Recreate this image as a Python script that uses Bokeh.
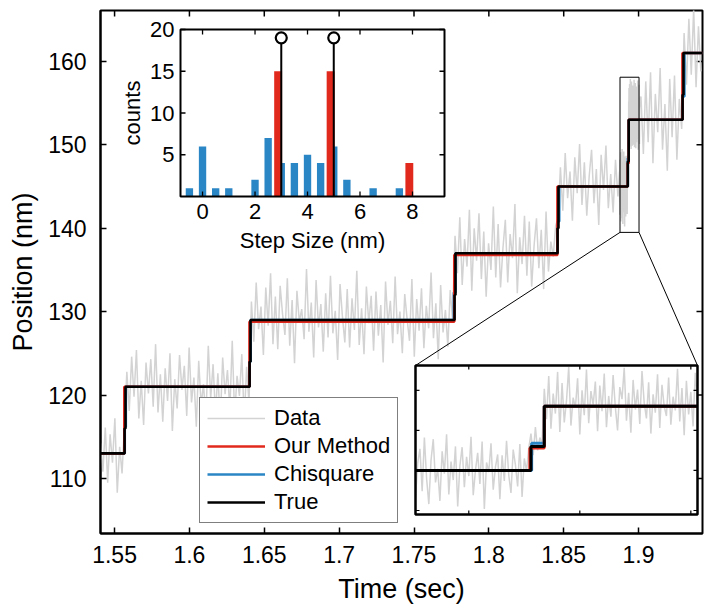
import numpy as np
from bokeh.plotting import figure
from bokeh.models import Range1d, FixedTicker, Legend, LegendItem, NumeralTickFormatter
from bokeh.core.properties import value
from bokeh.embed import file_html
from bokeh.resources import INLINE

FONT = "Liberation Sans"
GRAY = "#d3d3d3"
RED = "#e2291d"
BLUE = "#2b86c6"

# ---------------- data ----------------
# coarse samples before the zoom window (start 1.5406 s, every 1.6 ms)
coarse_a_t0, coarse_a_dt = 1.5406, 0.0016
pos_coarse_a = [
    114.2, 110.8, 116.1, 109.5, 115.3, 111.9, 117.2, 108.3, 113.8, 110.6, 116.4,
    122.8, 118.1, 124.6, 119.8, 125.4, 117.2, 121.7, 116.4, 123.9, 120.2, 124.3, 118.6, 126.1,
    117.9, 122.5, 116.8, 123.2, 119.3, 125.0, 115.7, 121.9, 118.4, 124.8, 120.6, 123.5, 117.5,
    125.7, 119.1, 122.1, 116.2, 124.1, 118.8, 121.3, 117.1, 125.9, 119.6, 123.7, 117.7, 122.6,
    116.6, 124.5, 120.1, 123.0, 118.2, 126.5, 117.4, 122.3, 119.9, 124.9, 116.9, 123.4, 119.0,
    131.2, 126.4, 133.5, 127.9, 130.6, 124.8, 132.9, 128.3, 134.6, 126.1,
    131.8, 125.5, 133.1, 129.7, 127.2, 134.0, 125.9, 131.4, 123.8, 132.5,
    128.8, 130.3, 126.7, 135.1, 127.6, 131.1, 124.5, 133.8, 128.1, 130.9,
    125.2, 132.2, 126.9, 134.3, 127.4, 130.1, 124.2, 133.3, 129.4, 126.3,
    132.7, 125.7, 131.6, 127.8, 134.9, 126.0, 130.4, 124.9, 133.0, 128.6,
    131.9, 125.3, 132.4, 127.1, 130.8, 123.9, 133.6, 128.4, 131.3, 126.2,
    134.2, 127.3, 130.0, 125.0, 132.1, 129.1, 126.5, 133.9, 124.6, 131.5,
    127.7, 132.8, 125.6, 130.7, 128.0, 134.7, 126.8, 131.0, 124.3, 133.2,
    127.5, 130.2, 125.8, 132.6, 128.9,
    139.1, 134.6, 141.3, 133.2, 138.7, 135.4, 142.2, 132.5, 140.0, 136.1,
    141.8, 133.9, 139.6, 131.8, 138.2, 135.0, 142.6, 134.1, 140.5, 132.9,
    137.6, 141.0, 133.5, 139.3, 136.4, 142.9, 132.2, 138.9, 135.7, 141.5,
    134.3, 140.8, 133.0, 137.9, 141.2, 135.2, 139.8, 132.7, 142.0, 134.8,
    138.4, 136.6, 140.3,
    141.2, 147.3, 142.1, 149.0, 143.6, 146.8, 140.9, 148.5, 144.2, 150.1,
    142.8, 147.9, 141.5, 146.2, 149.4, 143.0, 147.1, 140.4, 148.8, 144.6,
    149.9, 142.4, 146.5, 141.9, 148.2, 143.8,
]
# fine samples around the zoomed region (start 1.8873 s, every 0.1 ms)
fine_t0, fine_dt = 1.8873, 0.0001
pos_fine = [
    146.8, 143.1, 148.2, 141.6, 145.9, 147.7, 142.4, 149.1, 144.0, 140.8,
    146.3, 148.9, 143.5, 145.2, 141.2, 147.4, 144.6, 149.5, 142.0, 146.1,
    143.8, 148.0, 140.5, 145.6, 147.9, 142.9, 146.7, 144.3, 149.2, 141.9,
    145.0, 147.2, 143.3, 148.6, 140.2, 146.0, 144.8, 148.4, 142.6, 145.4,
    147.0, 141.4, 146.9, 143.7, 148.7, 144.4, 142.2, 147.6, 145.7, 143.0,
    148.3, 141.7, 146.5, 144.9, 147.8,
    149.6, 146.9, 150.4, 147.5, 149.1, 148.3,
    155.2, 151.4, 156.8, 150.2, 154.6, 152.1, 157.3, 149.8, 155.9, 151.0,
    153.7, 157.9, 150.6, 154.1, 152.8, 156.5, 149.5, 155.0, 151.9, 157.6,
    150.9, 154.9, 153.2, 156.1, 149.9, 155.6, 152.4, 157.1, 150.4, 154.3,
    151.7, 156.9, 152.9, 150.0, 155.4, 153.9, 157.8, 151.2, 154.7, 149.7,
    156.3, 152.6, 155.1, 150.8, 157.4, 153.4, 151.5, 156.0, 149.6, 154.5,
    152.2, 157.0, 150.3, 155.7, 153.0, 151.8, 156.6, 150.7, 154.2, 152.5,
    157.7, 151.1, 155.3, 149.4, 156.2, 152.0, 154.8, 150.5, 157.2, 153.6,
    151.3, 155.8, 150.1, 154.4,
]
# coarse samples after the zoom window (start 1.9016 s, every 1.6 ms)
coarse_b_t0, coarse_b_dt = 1.9016, 0.0016
pos_coarse_b = [
    155.8, 148.9, 157.6, 150.3, 158.7, 147.8, 156.1, 151.5, 159.2, 149.4,
    154.9, 146.9, 157.9, 150.9, 158.3, 148.2, 155.5, 151.9,
    163.4, 157.2, 165.1, 158.4, 166.3, 156.9, 164.2, 158.8,
]

# step fits: change times and the level that starts at each time
true_t = [1.5406, 1.5567, 1.5573, 1.6402, 1.6408, 1.7771, 1.7777, 1.8459, 1.8465,
          1.8928, 1.8934, 1.9294, 1.9300, 1.9427]
true_y = [113, 116, 121, 124, 129, 132, 137, 140, 145, 148, 153, 156, 161, 161]
ours_t = [1.5406, 1.5565, 1.6401, 1.7769, 1.8458, 1.89275, 1.8934, 1.9293, 1.9427]
ours_y = [113, 121, 128.8, 136.8, 145, 147.8, 153, 161, 161]
chi_t = [1.5406, 1.5568, 1.5575, 1.6402, 1.6409, 1.7766, 1.7777, 1.8460, 1.8470,
         1.89283, 1.8934, 1.9294, 1.9306, 1.9427]
chi_y = [113, 116.2, 121, 124, 129, 132.3, 137, 140.8, 145, 148.4, 153, 155.8, 161, 161]

# histogram of step sizes
chi_sizes = [-0.5, 0, 0.5, 1, 2, 2.5, 3, 3.5, 4, 4.5, 5, 5.5, 6.5, 7.5]
chi_counts = [1, 6, 1, 1, 2, 7, 4, 4, 5, 4, 6, 2, 1, 1]
ours_sizes = [3, 5, 8]
ours_counts = [15, 15, 4]
true_sizes = [3, 5]
true_counts = [19, 19]

# ticks
xticks = [1.55, 1.6, 1.65, 1.7, 1.75, 1.8, 1.85, 1.9]
xtick_labels = ["1.55", "1.6", "1.65", "1.7", "1.75", "1.8", "1.85", "1.9"]
yticks = [110, 120, 130, 140, 150, 160]
ytick_labels = ["110", "120", "130", "140", "150", "160"]
hist_xticks = [0, 2, 4, 6, 8]
hist_xtick_labels = ["0", "2", "4", "6", "8"]
hist_yticks = [5, 10, 15, 20]
hist_ytick_labels = ["5", "10", "15", "20"]
zoom_xticks = [1.89, 1.895, 1.9]
zoom_yticks = [140, 145, 150, 155]

# ---------------- layout ----------------
X0, X1 = 1.5406, 1.9427
Y0, Y1 = 103.4, 166.1
FW, FH = 602, 523
# zoom window
WX0, WX1, WY0, WY1 = 1.8876, 1.9003, 139.5, 158.1
# histogram inset data box
HX0, HX1, HY0, HY1 = -0.84, 9.22, 0, 20


def inset_ranges(L, R, T, B, a, b, c, d):
    sx = (b - a) / (R - L)
    xs = a - L * sx
    sy = (d - c) / (B - T)
    ys = c - (FH - B) * sy
    return Range1d(xs, xs + FW * sx), Range1d(ys, ys + FH * sy)


hxr, hyr = inset_ranges(80, 344, 19, 186, HX0, HX1, HY0, HY1)
zxr, zyr = inset_ranges(315, 597, 355, 504, WX0, WX1, WY0, WY1)

p = figure(frame_width=FW, frame_height=FH,
           x_range=Range1d(X0, X1), y_range=Range1d(Y0, Y1),
           output_backend="svg", toolbar_location=None,
           min_border_left=100, min_border_right=8, min_border_top=10, min_border_bottom=0,
           background_fill_color="white", border_fill_color="white")
p.extra_x_ranges = {"hx": hxr, "zx": zxr}
p.extra_y_ranges = {"hy": hyr, "zy": zyr}
p.grid.visible = False
p.outline_line_color = "black"
p.outline_line_width = 2

for ax in (p.xaxis[0], p.yaxis[0]):
    ax.axis_line_width = 2
    ax.major_tick_in = 6
    ax.major_tick_out = 0
    ax.major_tick_line_width = 1.5
    ax.minor_tick_line_color = None
    ax.major_label_text_font = FONT
    ax.major_label_text_font_size = "23px"
    ax.major_label_text_color = "black"
    ax.axis_label_text_font = FONT
    ax.axis_label_text_font_size = "27px"
    ax.axis_label_text_font_style = "normal"
    ax.axis_label_text_color = "black"

p.xaxis.ticker = FixedTicker(ticks=xticks)
p.xaxis.formatter = NumeralTickFormatter(format="0.0[0]")
p.xaxis.major_label_overrides = dict(zip(xticks, xtick_labels))
p.xaxis.axis_label = "Time (sec)"
p.xaxis.major_label_standoff = 12
p.xaxis.axis_label_standoff = 8
p.yaxis.ticker = FixedTicker(ticks=yticks)
p.yaxis.major_label_overrides = dict(zip(yticks, ytick_labels))
p.yaxis.axis_label = "Position (nm)"
p.yaxis.major_label_standoff = 14
p.yaxis.axis_label_standoff = 7

# mirrored inward ticks on top and right of main axes
p.ray(x=xticks, y=[Y1] * len(xticks), length=6, length_units="screen",
      angle=-np.pi / 2, line_color="black", line_width=1.5)
p.ray(x=[X1] * len(yticks), y=yticks, length=6, length_units="screen",
      angle=np.pi, line_color="black", line_width=1.5)

# ---------------- main traces ----------------
t_a = coarse_a_t0 + coarse_a_dt * np.arange(len(pos_coarse_a))
t_f = fine_t0 + fine_dt * np.arange(len(pos_fine))
t_b = coarse_b_t0 + coarse_b_dt * np.arange(len(pos_coarse_b))
t_all = np.concatenate([t_a, t_f, t_b])
pos_all = np.concatenate([pos_coarse_a, pos_fine, pos_coarse_b])

r_data = p.line(t_all, pos_all, line_color=GRAY, line_width=1.5)
r_chi = p.step(chi_t, chi_y, mode="after", line_color=BLUE, line_width=2.6)
r_ours = p.step(ours_t, ours_y, mode="after", line_color=RED, line_width=2.6)
r_true = p.step(true_t, true_y, mode="after", line_color="black", line_width=2.6)

# zoom rectangle + connectors
p.quad(left=[WX0], right=[WX1], bottom=[WY0], top=[WY1], fill_color=None,
       line_color="black", line_width=1)
cx_l = X0 + 315 * (X1 - X0) / FW
cx_r = X0 + 597 * (X1 - X0) / FW
cy = Y1 - 355 * (Y1 - Y0) / FH
p.segment(x0=[WX0, WX1], y0=[WY0, WY0], x1=[cx_l, cx_r], y1=[cy, cy],
          line_color="black", line_width=1)

# ---------------- histogram inset ----------------
H = dict(x_range_name="hx", y_range_name="hy")
p.quad(left=[HX0], right=[HX1], bottom=[HY0], top=[HY1], fill_color="white",
       line_color=None, **H)
p.vbar(x=chi_sizes, width=0.28, top=chi_counts, bottom=0, fill_color=BLUE,
       line_color=None, **H)
p.vbar(x=np.array(ours_sizes) - 0.12, width=0.3, top=ours_counts, bottom=0,
       fill_color=RED, line_color=None, **H)
p.segment(x0=true_sizes, y0=[0] * len(true_sizes), x1=true_sizes, y1=true_counts,
          line_color="black", line_width=2, **H)
p.scatter(true_sizes, true_counts, marker="circle", size=11, fill_color="white",
          line_color="black", line_width=2.2, **H)
p.quad(left=[HX0], right=[HX1], bottom=[HY0], top=[HY1], fill_color=None,
       line_color="black", line_width=2, **H)
p.ray(x=hist_xticks, y=[HY0] * 5, length=5, length_units="screen", angle=np.pi / 2,
      line_color="black", line_width=1.3, **H)
p.ray(x=hist_xticks, y=[HY1] * 5, length=5, length_units="screen", angle=-np.pi / 2,
      line_color="black", line_width=1.3, **H)
p.ray(x=[HX0] * 4, y=hist_yticks, length=5, length_units="screen", angle=0,
      line_color="black", line_width=1.3, **H)
p.ray(x=[HX1] * 4, y=hist_yticks, length=5, length_units="screen", angle=np.pi,
      line_color="black", line_width=1.3, **H)
p.text(x=hist_xticks, y=[HY0] * 5, text=hist_xtick_labels, text_align="center",
       text_baseline="top", y_offset=7, text_font=value(FONT), text_font_size="22px",
       text_color="black", **H)
p.text(x=[HX0] * 4, y=hist_yticks, text=hist_ytick_labels, text_align="right",
       text_baseline="middle", x_offset=-6, text_font=value(FONT), text_font_size="22px",
       text_color="black", **H)
p.text(x=[(HX0 + HX1) / 2], y=[HY0], text=["Step Size (nm)"], text_align="center",
       text_baseline="middle", y_offset=44, text_font=value(FONT), text_font_size="22px",
       text_color="black", **H)
p.text(x=[HX0], y=[(HY0 + HY1) / 2], text=["counts"], text_align="center",
       text_baseline="middle", x_offset=-48, angle=np.pi / 2, text_font=value(FONT),
       text_font_size="22px", text_color="black", **H)

# ---------------- zoom inset ----------------
Z = dict(x_range_name="zx", y_range_name="zy")


def clip_steps(ts, ys, a, b):
    lvl = ys[0]
    for ti, yi in zip(ts, ys):
        if ti <= a:
            lvl = yi
    xs, vs = [a], [lvl]
    for ti, yi in zip(ts, ys):
        if a < ti < b:
            xs.append(ti)
            vs.append(yi)
    xs.append(b)
    vs.append(vs[-1])
    return xs, vs


p.quad(left=[WX0], right=[WX1], bottom=[WY0], top=[WY1], fill_color="white",
       line_color=None, **Z)
m = (t_f >= WX0 - 1e-9) & (t_f <= WX1 + 1e-9)
p.line(t_f[m], np.array(pos_fine)[m], line_color=GRAY, line_width=1.5, **Z)
for ts, ys, col in ((chi_t, chi_y, BLUE), (ours_t, ours_y, RED), (true_t, true_y, "black")):
    xs, vs = clip_steps(ts, ys, WX0, WX1)
    p.step(xs, vs, mode="after", line_color=col, line_width=3, **Z)
p.quad(left=[WX0], right=[WX1], bottom=[WY0], top=[WY1], fill_color=None,
       line_color="black", line_width=2.5, **Z)
p.ray(x=zoom_xticks, y=[WY0] * 3, length=4, length_units="screen", angle=np.pi / 2,
      line_color="black", line_width=1.2, **Z)
p.ray(x=zoom_xticks, y=[WY1] * 3, length=4, length_units="screen", angle=-np.pi / 2,
      line_color="black", line_width=1.2, **Z)
p.ray(x=[WX0] * 4, y=zoom_yticks, length=4, length_units="screen", angle=0,
      line_color="black", line_width=1.2, **Z)
p.ray(x=[WX1] * 4, y=zoom_yticks, length=4, length_units="screen", angle=np.pi,
      line_color="black", line_width=1.2, **Z)

# ---------------- legend ----------------
legend = Legend(items=[LegendItem(label="Data", renderers=[r_data]),
                       LegendItem(label="Our Method", renderers=[r_ours]),
                       LegendItem(label="Chisquare", renderers=[r_chi]),
                       LegendItem(label="True", renderers=[r_true])],
                location=(99, 10), border_line_color="black", border_line_width=1.5,
                background_fill_color="white", background_fill_alpha=1.0,
                label_text_font=FONT, label_text_font_size="22px", label_text_color="black",
                glyph_width=58, glyph_height=26, label_height=26, spacing=2,
                padding=7, label_standoff=9, margin=0)
p.add_layout(legend)

open("out.html", "w").write(file_html(p, INLINE))
